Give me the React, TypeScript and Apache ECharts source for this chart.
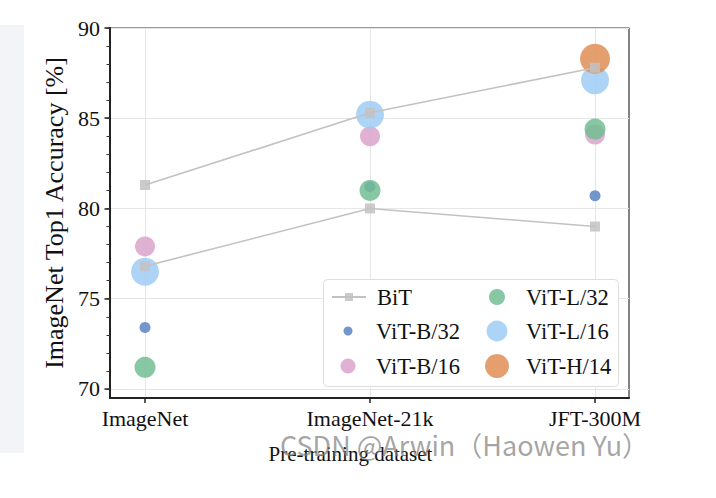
import React, { useEffect, useRef } from "react";
import * as echarts from "echarts";

const categories = ["ImageNet", "ImageNet-21k", "JFT-300M"];
const yTicks = [70, 75, 80, 85, 90];
const yMinorTicks = [70, 71, 72, 73, 74, 75, 76, 77, 78, 79, 80, 81, 82, 83, 84, 85, 86, 87, 88, 89, 90];

const bitUpper = [81.3, 85.3, 87.8];
const bitLower = [76.8, 80.0, 79.0];
const vitB32 = [73.4, 81.2, 80.7];
const vitB16 = [77.9, 84.0, 84.1];
const vitL32 = [71.2, 81.0, 84.4];
const vitL16 = [76.5, 85.2, 87.1];
const vitH14: (number | null)[] = [null, null, 88.3];

const FONT = "Liberation Serif";

const toPts = (arr: (number | null)[]) =>
  arr.map((v, i) => (v == null ? null : [i, v])).filter((d) => d !== null);

export default function App() {
  const ref = useRef<HTMLDivElement>(null);
  useEffect(() => {
    if (!ref.current) return;
    const chart = echarts.init(ref.current, null, { renderer: "svg" });

    const scatter = (name: string, data: (number | null)[], color: string, size: number) => ({
      name,
      type: "scatter",
      data: toPts(data),
      symbol: "circle",
      symbolSize: size,
      itemStyle: { color, opacity: 0.85 },
      z: 2,
    });

    const bitLine = (data: number[]) => ({
      name: "BiT",
      type: "line",
      data: toPts(data),
      symbol: "rect",
      symbolSize: 10,
      lineStyle: { color: "#c2c2c2", width: 1.6 },
      itemStyle: { color: "#c2c2c2", opacity: 0.85 },
      z: 5,
    });

    const legendItem = (
      name: string,
      left: number,
      centerY: number,
      itemWidth: number,
      itemHeight: number,
      padLeft: number
    ) => ({
      data: [name],
      left,
      top: centerY - 15,
      orient: "horizontal",
      padding: 0,
      itemWidth,
      itemHeight,
      z: 6,
      selectedMode: false,
      textStyle: {
        fontFamily: FONT,
        fontSize: 22.5,
        color: "#111",
        lineHeight: 30,
        padding: [0, 0, 0, padLeft],
      },
    });

    const option: any = {
      animation: false,
      backgroundColor: "#ffffff",
      grid: {
        left: 110,
        right: 87,
        top: 28,
        bottom: 100,
        show: true,
        borderColor: "#333",
        borderWidth: 1.2,
        backgroundColor: "transparent",
        containLabel: false,
      },
      xAxis: {
        type: "value",
        min: -0.1556,
        max: 2.151,
        name: "Pre-training dataset",
        nameLocation: "middle",
        nameGap: 45,
        nameTextStyle: { fontFamily: FONT, fontSize: 21, color: "#111", padding: [0, 38, 0, 0] },
        axisLine: { show: true, onZero: false, lineStyle: { color: "#222", width: 2 } },
        axisTick: { show: true, customValues: [0, 1, 2], length: 5, lineStyle: { color: "#222", width: 1.5 } },
        axisLabel: {
          customValues: [0, 1, 2],
          formatter: (v: number) => categories[Math.round(v)] ?? "",
          fontFamily: FONT,
          fontSize: 22,
          lineHeight: 20,
          color: "#111",
          margin: 10,
        },
        splitLine: { show: true, lineStyle: { color: "#e6e6e6", width: 1 } },
      },
      yAxis: [
        {
          type: "value",
          min: 69.5,
          max: 90,
          name: "ImageNet Top1 Accuracy [%]",
          nameLocation: "middle",
          nameGap: 34,
          nameTextStyle: { fontFamily: FONT, fontSize: 26, color: "#111" },
          axisLine: { show: true, onZero: false, lineStyle: { color: "#222", width: 2 } },
          axisTick: { show: true, customValues: yTicks, length: 5.5, lineStyle: { color: "#222", width: 1.5 } },
          axisLabel: {
            customValues: yTicks,
            fontFamily: FONT,
            fontSize: 22,
            color: "#111",
            margin: 10,
          },
          splitLine: { show: true, lineStyle: { color: "#e6e6e6", width: 1 } },
        },
        {
          type: "value",
          min: 69.5,
          max: 90,
          position: "left",
          axisLine: { show: false, onZero: false },
          axisTick: { show: true, customValues: yMinorTicks, length: 3.5, lineStyle: { color: "#333", width: 1 } },
          axisLabel: { show: false },
          splitLine: { show: false },
        },
      ],
      legend: [
        legendItem("BiT", 331, 297, 34, 10, 6),
        legendItem("ViT-B/32", 343.5, 331, 9, 9, 18.5),
        legendItem("ViT-B/16", 340.5, 366, 15, 15, 15.5),
        legendItem("ViT-L/32", 489, 297, 16, 16, 16),
        legendItem("ViT-L/16", 486.5, 331, 21, 21, 13.5),
        legendItem("ViT-H/14", 485, 366, 24, 24, 12),
      ],
      graphic: [
        {
          type: "rect",
          left: 0,
          top: 25,
          shape: { width: 24, height: 428 },
          style: { fill: "#f3f4f7" },
          z: 0,
        },
        {
          type: "rect",
          left: 323,
          top: 279,
          shape: { width: 295, height: 107, r: 4 },
          style: { fill: "#ffffff", stroke: "#dddddd", lineWidth: 1 },
          z: 5,
        },
        {
          type: "text",
          left: 280,
          top: 431,
          style: {
            text: "CSDN @Arwin（Haowen Yu）",
            fontFamily: "Noto Sans CJK SC",
            fontSize: 27,
            fill: "rgba(125,125,125,0.7)",
          },
          z: 10,
        },
      ],
      series: [
        scatter("ViT-B/32", vitB32, "#5b84c4", 11),
        scatter("ViT-B/16", vitB16, "#dca3cd", 20),
        scatter("ViT-L/32", vitL32, "#72bd93", 21),
        scatter("ViT-L/16", vitL16, "#9fcdf5", 28),
        scatter("ViT-H/14", vitH14, "#e08e55", 30),
        bitLine(bitUpper),
        bitLine(bitLower),
      ],
    };
    chart.setOption(option);
    return () => chart.dispose();
  }, []);
  return (
    <div
      ref={ref}
      style={{ position: "fixed", left: 0, top: 0, width: 716, height: 498 }}
    />
  );
}
